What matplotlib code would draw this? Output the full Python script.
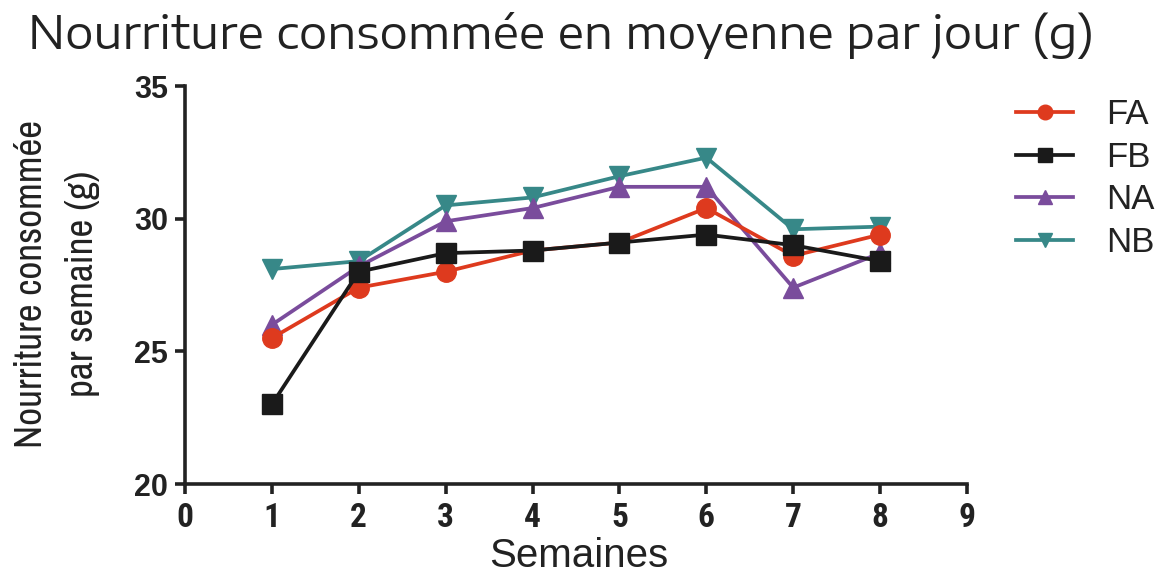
import matplotlib
matplotlib.use("Agg")
import matplotlib.pyplot as plt

weeks = [1, 2, 3, 4, 5, 6, 7, 8]
FA = [25.5, 27.4, 28.0, 28.8, 29.1, 30.4, 28.6, 29.4]
FB = [23.0, 28.0, 28.7, 28.8, 29.1, 29.4, 29.0, 28.4]
NA = [26.0, 28.2, 29.9, 30.4, 31.2, 31.2, 27.4, 28.7]
NB = [28.1, 28.4, 30.5, 30.8, 31.6, 32.3, 29.6, 29.7]
series_names = ["FA", "FB", "NA", "NB"]
xticks = list(range(0, 10))
yticks = [20, 25, 30, 35]
title = "Nourriture consommée en moyenne par jour (g)"
ylabel = "Nourriture consommée\npar semaine (g)"
xlabel = "Semaines"

colors = {"FA": "#de3a1e", "FB": "#1a1a1a", "NA": "#7a4c9c", "NB": "#378888"}
markers = {"FA": "o", "FB": "s", "NA": "^", "NB": "v"}
zorders = {"FA": 4, "FB": 5, "NA": 3, "NB": 2}
data = {"FA": FA, "FB": FB, "NA": NA, "NB": NB}
ink = "#222222"

W, H = 1175, 578
plt.rcParams['font.family'] = ['Liberation Sans', 'DejaVu Sans']

fig = plt.figure(figsize=(W/100, H/100), dpi=100)
ax = fig.add_axes([185/W, 1-484/H, (967-185)/W, (484-86)/H])

for name in series_names:
    ax.plot(weeks, data[name], color=colors[name], marker=markers[name],
            markersize=14, linewidth=2.7, label=name, clip_on=False,
            zorder=zorders[name])

ax.set_xlim(0, 9)
ax.set_ylim(20, 35)
ax.set_xticks(xticks)
ax.set_yticks(yticks)
for s in ["top", "right"]:
    ax.spines[s].set_visible(False)
for s in ["left", "bottom"]:
    ax.spines[s].set_linewidth(2.6)
    ax.spines[s].set_color(ink)
ax.tick_params(axis="both", direction="out", width=2.6, length=7, color=ink)
ax.tick_params(axis="y", pad=5)
ax.tick_params(axis="x", pad=6)
narrow = ['Roboto Condensed', 'Liberation Sans', 'DejaVu Sans']
for lab in ax.get_xticklabels():
    lab.set_family(narrow)
    lab.set_fontweight("bold")
    lab.set_fontsize(24)
    lab.set_color(ink)
for lab in ax.get_yticklabels():
    lab.set_fontweight("bold")
    lab.set_fontsize(22)
    lab.set_color(ink)

renderer = fig.canvas.get_renderer()

def fit(t, target, horizontal=True):
    for _ in range(3):
        bb = t.get_window_extent(renderer)
        cur = bb.width if horizontal else bb.height
        t.set_fontsize(t.get_fontsize() * target / cur)

# x label
xl = fig.text(579/W, 1-556/H, xlabel, fontsize=29, color=ink, ha="center", va="center")

# y label (narrow font), longest line about 328 px
yl = fig.text(57/W, 1-284/H, ylabel, fontsize=30, color=ink, ha="center", va="center",
              rotation=90, family=['Archivo Narrow', 'Roboto Condensed', 'Liberation Sans'],
              multialignment="center", linespacing=1.6)
fit(yl, 328, horizontal=False)

# title (wide letterforms)
tt = fig.text(28/W, 1-35/H, title, fontsize=26, color=ink, ha="left", va="center",
              family=['Encode Sans Expanded', 'Liberation Sans'])
fit(tt, 1067, horizontal=True)

leg = ax.legend(loc="upper left", bbox_to_anchor=(1016/W, 1-98/H),
                bbox_transform=fig.transFigure, frameon=False,
                prop={'family': ['Liberation Sans'], 'size': 25},
                handlelength=1.65, labelspacing=0.28, handletextpad=0.95,
                borderpad=0, borderaxespad=0, markerscale=0.75)
for t in leg.get_texts():
    t.set_color(ink)

fig.savefig("out.png", dpi=100)
